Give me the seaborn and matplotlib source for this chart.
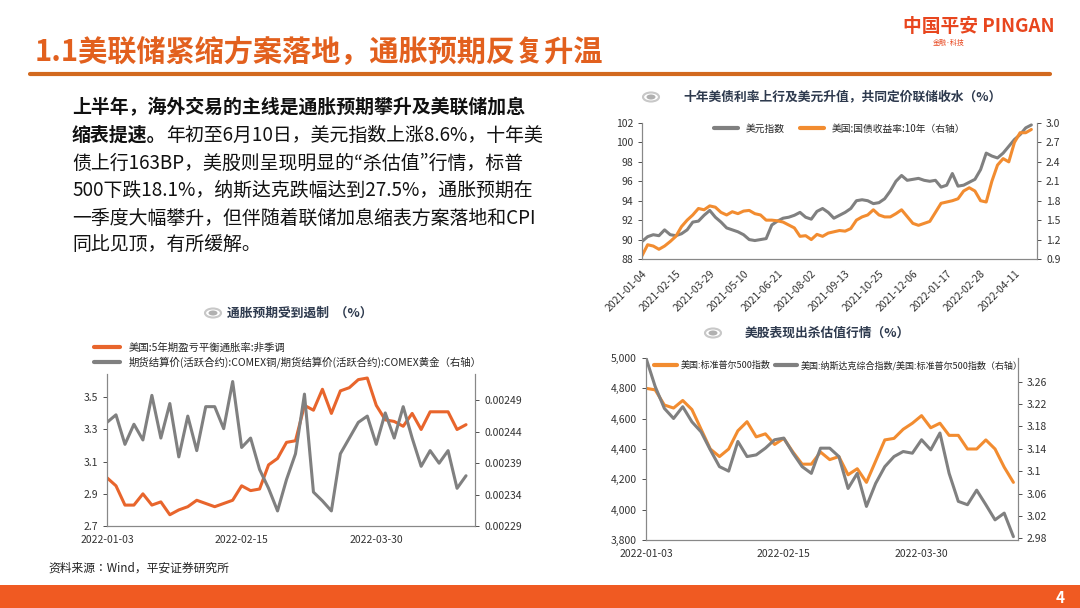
import numpy as np
import pandas as pd
import matplotlib
matplotlib.use("Agg")
import matplotlib.pyplot as plt
from matplotlib.patches import Circle, Rectangle
from matplotlib.lines import Line2D
import seaborn as sns

CJK = "Noto Sans CJK JP"
sns.set_style("white", {"font.family": [CJK, "DejaVu Sans"]})
plt.rcParams["font.family"] = [CJK, "DejaVu Sans"]
plt.rcParams["axes.unicode_minus"] = False

# ---------------- 数据 ----------------
# 图1：美元指数（周度）与美国10年国债收益率（右轴）
dxy = [
    89.8, 90.3, 90.5, 90.4,            # 2021-01
    91.0, 90.5, 90.4, 90.6,            # 02
    91.0, 91.8, 91.9, 92.5, 93.0,      # 03
    92.3, 91.8, 91.2, 91.0,            # 04
    90.8, 90.5, 90.0, 89.9, 90.0,      # 05
    90.1, 91.5, 91.9, 92.2,            # 06
    92.3, 92.5, 92.8, 92.3,            # 07
    92.1, 92.9, 93.2, 92.8, 92.2,      # 08
    92.5, 92.8, 93.2, 94.0,            # 09
    94.1, 94.0, 93.7, 93.8,            # 10
    94.2, 95.0, 96.0, 96.6, 96.1,      # 11
    96.2, 96.3, 96.1, 96.0,            # 12
    96.1, 95.4, 95.6, 96.8, 95.5,      # 2022-01
    95.6, 95.9, 96.2, 97.2,            # 02
    98.9, 98.6, 98.4, 98.9,            # 03
    99.6, 100.3, 100.8, 101.5,         # 04
    101.8,                             # 05
]
ust10 = [
    0.95, 1.12, 1.10, 1.05,
    1.10, 1.17, 1.25, 1.40,
    1.50, 1.58, 1.68, 1.66, 1.72,
    1.70, 1.62, 1.58, 1.63,
    1.60, 1.64, 1.65, 1.60, 1.58,
    1.50, 1.50, 1.49, 1.47,
    np.nan, 1.38, 1.25, 1.26,
    1.20, 1.28, 1.25, 1.30, 1.32,
    1.34, 1.33, 1.37, 1.50,
    1.55, 1.58, 1.66, 1.58,
    1.55, 1.55, 1.60, 1.66, np.nan,
    1.45, 1.42, 1.45, 1.48,
    1.62, 1.76, np.nan, 1.80, 1.83,
    1.95, 2.00, 1.95, 1.80,
    1.78, 2.10, 2.35, 2.45,
    2.40, 2.70, 2.85, 2.85,
    2.90,
]
dates1 = pd.date_range("2021-01-04", periods=len(dxy), freq="7D")
ticks1 = pd.date_range("2021-01-04", periods=12, freq="42D")

# 图2：5年期盈亏平衡通胀率 与 铜金比（右轴），交易日序号
days2 = list(range(0, 81, 2))
breakeven = [3.00, 2.95, 2.83, 2.83, 2.90, 2.83, 2.85, 2.77, 2.80, 2.82,
             2.86, 2.84, 2.82, 2.84, 2.86, 2.95, 2.92, 2.93, 3.08, 3.12,
             3.22, 3.23, 3.45, 3.42, 3.55, 3.40, 3.54, 3.56, 3.61, 3.62,
             3.45, 3.36, 3.35, 3.32, 3.40, 3.30, 3.41, 3.41, 3.41, 3.30, 3.33]
cu_au = [0.002455, 0.002467, 0.002420, 0.002452, 0.002427, 0.002498, 0.002430,
         0.002485, 0.002400, 0.002465, 0.002410, 0.002480, 0.002480, 0.002445,
         0.002520, 0.002415, 0.002430, 0.002380, 0.002350, 0.002314, 0.002364,
         0.002405, 0.002500, 0.002344, 0.002330, 0.002314, 0.002405, 0.002430,
         0.002455, 0.002465, 0.002420, 0.002470, 0.002430, 0.002480, 0.002430,
         0.002385, 0.002410, 0.002390, 0.002410, 0.002350, 0.002370]
xlabels = {0: "2022-01-03", 30: "2022-02-15", 60: "2022-03-30"}

# 图3：标普500 与 纳指/标普（右轴）
days3 = list(range(0, 81, 2))
spx = [4800, 4790, 4690, 4670, 4720, 4660, 4530, 4400, 4350, 4400,
       4520, 4580, 4480, 4500, 4430, 4470, 4380, 4300, 4300, 4380,
       4330, 4350, 4230, 4270, 4180, 4320, 4460, 4470, 4530, 4570,
       4620, 4540, 4570, 4490, 4490, 4400, 4400, 4460, 4400, 4280, 4180]
ratio = [3.302, 3.251, 3.212, 3.194, 3.215, 3.188, 3.170, 3.138, 3.108, 3.100,
         3.153, 3.126, 3.129, 3.141, 3.156, 3.159, 3.132, 3.108, 3.096, 3.141,
         3.141, 3.126, 3.069, 3.096, 3.037, 3.078, 3.108, 3.126, 3.135, 3.132,
         3.156, 3.138, 3.168, 3.096, 3.046, 3.040, 3.066, 3.040, 3.013, 3.025, 2.983]

GRAY = "#808080"
ORANGE = "#F28C30"
RED_ORANGE = "#E8652C"
TITLE_C = "#2E3A4E"

W, H = 1080, 608
fig = plt.figure(figsize=(W / 100, H / 100), dpi=100)


def rect(l, t, r, b):
    return [l / W, 1 - b / H, (r - l) / W, (b - t) / H]


def icon(x, y):
    fig.patches.append(Circle((x / W, 1 - y / H), 8 / W, transform=fig.transFigure,
                              facecolor="white", edgecolor="#C8C8C8", lw=1.5))
    fig.patches.append(Circle((x / W, 1 - y / H), 4.5 / W, transform=fig.transFigure,
                              facecolor="#B0B0B0", edgecolor="none"))


def style(ax, axr):
    for a in (ax, axr):
        a.spines["top"].set_visible(False)
        for s in ("left", "right", "bottom"):
            a.spines[s].set_color("#888888")
            a.spines[s].set_linewidth(0.8)
        a.tick_params(labelsize=7.5, colors="#333333", length=3, width=0.6)
        a.set_xlabel("")
        a.set_ylabel("")


# ---------------- 页面元素 ----------------
fig.text(35 / W, 1 - 52 / H, "1.1美联储紧缩方案落地，通胀预期反复升温", fontsize=21,
         color="#E2601E", va="center", fontweight="bold")
fig.add_artist(Line2D([30 / W, 1050 / W], [1 - 74 / H] * 2, color="#D2691E", lw=3))
fig.text(903 / W, 1 - 26 / H, "中国平安 PINGAN", fontsize=13.5, color="#E8461E",
         va="center", fontweight="bold")
fig.text(933 / W, 1 - 43 / H, "金融·科技", fontsize=5, color="#E8461E", va="center")
fig.patches.append(Rectangle((0, 0), 1, 23 / H, transform=fig.transFigure,
                             facecolor="#F05A22", edgecolor="none"))
fig.text(1060 / W, 10 / H, "4", fontsize=11, color="white", ha="center", va="center",
         fontweight="bold")
fig.text(48 / W, 1 - 568 / H, "资料来源：Wind，平安证券研究所", fontsize=8.5,
         color="#222222", va="center")

fs = 13.6
body = [
    "债上行163BP，美股则呈现明显的“杀估值”行情，标普",
    "500下跌18.1%，纳斯达克跌幅达到27.5%，通胀预期在",
    "一季度大幅攀升，但伴随着联储加息缩表方案落地和CPI",
    "同比见顶，有所缓解。",
]
fig.text(72 / W, 1 - 108 / H, "上半年，海外交易的主线是通胀预期攀升及美联储加息",
         fontsize=fs, va="center", color="#111111", fontweight="bold")
fig.text(72 / W, 1 - 135 / H, "缩表提速。", fontsize=fs,
         va="center", color="#111111", fontweight="bold")
fig.text(166 / W, 1 - 135 / H, "年初至6月10日，美元指数上涨8.6%，十年美",
         fontsize=fs, va="center", color="#111111")
for i, line in enumerate(body):
    fig.text(72 / W, 1 - (163 + 27.5 * i) / H, line, fontsize=fs, va="center",
             color="#111111")

# ---------------- 图1 ----------------
icon(651, 97)
fig.text(843 / W, 1 - 97 / H, "十年美债利率上行及美元升值，共同定价联储收水（%）",
         fontsize=9.2, color=TITLE_C, ha="center", va="center", fontweight="bold")
ax1 = fig.add_axes(rect(642, 123, 1037, 259))
ax1r = ax1.twinx()
sns.lineplot(x=dates1, y=dxy, ax=ax1, color=GRAY, lw=2.2)
sns.lineplot(x=dates1, y=ust10, ax=ax1r, color=ORANGE, lw=2.2)
ax1.set_ylim(88, 102)
ax1.set_yticks(range(88, 103, 2))
ax1r.set_ylim(0.9, 3.0)
ax1r.set_yticks(np.arange(0.9, 3.01, 0.3))
ax1r.yaxis.set_major_formatter(matplotlib.ticker.FormatStrFormatter("%.1f"))
ax1.set_xlim(pd.Timestamp("2021-01-04"), pd.Timestamp("2022-05-09"))
ax1.set_xticks(ticks1)
ax1.set_xticklabels([d.strftime("%Y-%m-%d") for d in ticks1], rotation=45,
                    ha="right", rotation_mode="anchor")
style(ax1, ax1r)
ax1.legend(handles=[Line2D([], [], color=GRAY, lw=3), Line2D([], [], color=ORANGE, lw=3)],
           labels=["美元指数", "美国:国债收益率:10年（右轴）"], loc="upper center",
           bbox_to_anchor=(0.5, 1.06), ncol=2, frameon=False, fontsize=7,
           handlelength=2.5, columnspacing=1.5)

# ---------------- 图2 ----------------
icon(213, 313)
fig.text(300 / W, 1 - 313 / H, "通胀预期受到遏制  （%）", fontsize=9.2,
         color=TITLE_C, ha="center", va="center", fontweight="bold")
ax2 = fig.add_axes(rect(107, 374, 475, 526))
ax2r = ax2.twinx()
sns.lineplot(x=days2, y=breakeven, ax=ax2, color=RED_ORANGE, lw=2.2)
sns.lineplot(x=days2, y=cu_au, ax=ax2r, color=GRAY, lw=2.2)
ax2.set_ylim(2.7, 3.645)
ax2.set_yticks([2.7, 2.9, 3.1, 3.3, 3.5])
ax2.yaxis.set_major_formatter(matplotlib.ticker.FormatStrFormatter("%.1f"))
ax2r.set_ylim(0.00229, 0.002532)
ax2r.set_yticks([0.00229, 0.00234, 0.00239, 0.00244, 0.00249])
ax2r.yaxis.set_major_formatter(matplotlib.ticker.FormatStrFormatter("%.5f"))
ax2.set_xlim(0, 82)
ax2.set_xticks(list(xlabels.keys()))
ax2.set_xticklabels(list(xlabels.values()))
ax2.set_xticks(range(0, 81, 10), minor=True)
ax2.tick_params(axis="x", which="minor", length=3, width=0.6)
style(ax2, ax2r)
ax2.legend(handles=[Line2D([], [], color=RED_ORANGE, lw=3), Line2D([], [], color=GRAY, lw=3)],
           labels=["美国:5年期盈亏平衡通胀率:非季调",
                   "期货结算价(活跃合约):COMEX铜/期货结算价(活跃合约):COMEX黄金（右轴）"],
           loc="lower left", bbox_to_anchor=(-0.06, 0.98), ncol=1, frameon=False,
           fontsize=7.5, handlelength=2.5, labelspacing=0.3)

# ---------------- 图3 ----------------
icon(713, 333)
fig.text(827 / W, 1 - 333 / H, "美股表现出杀估值行情（%）", fontsize=9.2,
         color=TITLE_C, ha="center", va="center", fontweight="bold")
ax3 = fig.add_axes(rect(646, 358, 1018, 540))
ax3r = ax3.twinx()
sns.lineplot(x=days3, y=spx, ax=ax3, color=ORANGE, lw=2.2)
sns.lineplot(x=days3, y=ratio, ax=ax3r, color=GRAY, lw=2.2)
ax3.set_ylim(3800, 5000)
ax3.set_yticks(range(3800, 5001, 200))
ax3.yaxis.set_major_formatter(matplotlib.ticker.StrMethodFormatter("{x:,.0f}"))
ax3r.set_ylim(2.977, 3.302)
ax3r.set_yticks([2.98, 3.02, 3.06, 3.1, 3.14, 3.18, 3.22, 3.26])
ax3r.yaxis.set_major_formatter(matplotlib.ticker.FormatStrFormatter("%g"))
ax3.set_xlim(0, 81)
ax3.set_xticks(list(xlabels.keys()))
ax3.set_xticklabels(list(xlabels.values()))
ax3.set_xticks(range(0, 81, 10), minor=True)
ax3.tick_params(axis="x", which="minor", length=3, width=0.6)
style(ax3, ax3r)
ax3.legend(handles=[Line2D([], [], color=ORANGE, lw=3), Line2D([], [], color=GRAY, lw=3)],
           labels=["美国:标准普尔500指数", "美国:纳斯达克综合指数/美国:标准普尔500指数（右轴）"],
           loc="upper left", bbox_to_anchor=(0.0, 1.03), ncol=2, frameon=False,
           fontsize=6.5, handlelength=2.5, columnspacing=0.5, handletextpad=0.4)

fig.savefig("out.png", dpi=100)
